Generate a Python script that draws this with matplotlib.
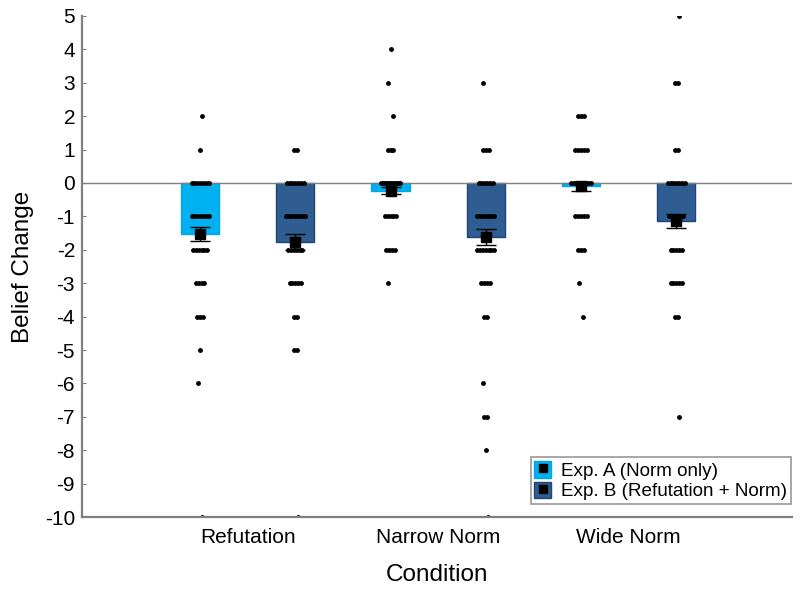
import numpy as np
import matplotlib
matplotlib.use("Agg")
import matplotlib.pyplot as plt
from matplotlib.patches import Patch
from matplotlib.lines import Line2D

plt.rcParams['font.family'] = ['Liberation Sans', 'DejaVu Sans']
plt.rcParams['axes.unicode_minus'] = False

conditions = ["Refutation", "Narrow Norm", "Wide Norm"]
series = ["Exp. A (Norm only)", "Exp. B (Refutation + Norm)"]
colors = ["#00B0F0", "#2F5C91"]
edge_colors = ["#00A6E6", "#1F4478"]

means_A = [-1.53, -0.23, -0.10]
means_B = [-1.77, -1.62, -1.15]
se_A = [0.20, 0.10, 0.14]
se_B = [0.23, 0.25, 0.21]

levels = [5, 4, 3, 2, 1, 0, -1, -2, -3, -4, -5, -6, -7, -8, -9, -10]
#                  5  4  3  2  1   0  -1 -2 -3 -4 -5 -6 -7 -8 -9 -10
counts_ref_A    = [0, 0, 0, 1, 1,  7,  7, 6, 4, 3, 1, 1, 0, 0, 0, 1]
counts_ref_B    = [0, 0, 0, 0, 2,  7,  8, 6, 5, 2, 2, 0, 0, 0, 0, 1]
counts_narrow_A = [0, 1, 1, 1, 3, 12,  5, 4, 1, 0, 0, 0, 0, 0, 0, 0]
counts_narrow_B = [0, 0, 1, 0, 3,  6,  7, 7, 4, 2, 0, 1, 2, 1, 0, 1]
counts_wide_A   = [0, 0, 0, 3, 5, 10,  5, 3, 1, 1, 0, 0, 0, 0, 0, 0]
counts_wide_B   = [1, 0, 2, 0, 2,  7,  6, 5, 5, 2, 0, 0, 1, 0, 0, 0]

counts_A = [counts_ref_A, counts_narrow_A, counts_wide_A]
counts_B = [counts_ref_B, counts_narrow_B, counts_wide_B]

fig = plt.figure(figsize=(8.0, 5.89), dpi=100)
ax = fig.add_axes([0.1025, 0.122, 0.888, 0.851])

x = np.arange(1, len(conditions) + 1)
offset = 0.25
width = 0.2

for si, (means, ses, counts) in enumerate([(means_A, se_A, counts_A), (means_B, se_B, counts_B)]):
    xs = x + (-offset if si == 0 else offset)
    ax.bar(xs, means, width=width, color=colors[si], edgecolor=edge_colors[si],
           linewidth=1.0, zorder=2)
    for gi, cnts in enumerate(counts):
        px, py = [], []
        for lv, n in zip(levels, cnts):
            if n == 0:
                continue
            half = min(0.05, 0.0075 * (n - 1))
            offs = np.linspace(-half, half, n) if n > 1 else np.array([0.012 * ((lv % 3) - 1)])
            px.extend(xs[gi] + offs)
            py.extend([lv] * n)
        ax.plot(px, py, 'o', color='black', markersize=3.5, markeredgewidth=0,
                zorder=3, clip_on=True)
    ax.errorbar(xs, means, yerr=ses, fmt='s', color='black', markersize=6.5,
                ecolor='black', elinewidth=1.0, capsize=7, capthick=1.0, zorder=4)

ax.axhline(0, color='#7F7F7F', linewidth=1.0, zorder=2.5)

ax.set_xlim(0.13, 3.86)
ax.set_ylim(-10, 5)
ax.set_yticks(np.arange(-10, 6, 1))
ax.set_xticks(x)
ax.set_xticklabels(conditions)

for s in ['top', 'right']:
    ax.spines[s].set_visible(False)
for s in ['left', 'bottom']:
    ax.spines[s].set_color('#7F7F7F')
    ax.spines[s].set_linewidth(1.6)
    ax.spines[s].set_zorder(5)

ax.tick_params(axis='y', direction='in', length=3, width=0.8, color='#7F7F7F',
               labelsize=15, pad=5)
ax.tick_params(axis='x', length=0, labelsize=15, pad=8)

ax.set_xlabel("Condition", fontsize=17.5, labelpad=12)
ax.set_ylabel("Belief Change", fontsize=17.5, labelpad=8)

handles = []
for si in range(2):
    p = Patch(facecolor=colors[si], edgecolor=edge_colors[si])
    m = Line2D([], [], marker='s', color='black', linestyle='none', markersize=5.5)
    handles.append((p, m))
leg = ax.legend(handles, series, loc='lower right', bbox_to_anchor=(1.0, 0.022),
                fontsize=13.6, frameon=True, fancybox=False, handlelength=0.9,
                handleheight=1.0, handletextpad=0.5, borderpad=0.2,
                labelspacing=0.1, borderaxespad=0.1)
leg.get_frame().set_edgecolor('#7F7F7F')
leg.get_frame().set_linewidth(1.2)
leg.set_zorder(6)

fig.savefig("out.png", dpi=100)
